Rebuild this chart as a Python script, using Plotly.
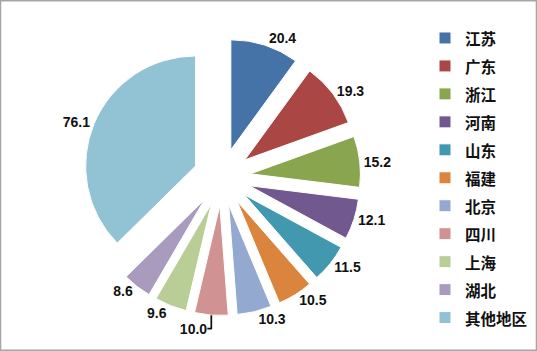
import plotly.graph_objects as go

regions = ["江苏", "广东", "浙江", "河南", "山东", "福建", "北京", "四川", "上海", "湖北", "其他地区"]
values = [20.4, 19.3, 15.2, 12.1, 11.5, 10.5, 10.3, 10.0, 9.6, 8.6, 76.1]
colors = ["#4572A7", "#AA4643", "#89A54E", "#71588F", "#4198AF", "#DB843D",
          "#93A9CF", "#D19392", "#B9CD96", "#A99BBD", "#92C3D5"]

legend_labels = ['<span style="font-size:15.5px">%s</span>' % r for r in regions]

fig = go.Figure(go.Pie(
    labels=legend_labels,
    values=values,
    sort=False,
    direction="clockwise",
    rotation=0,
    pull=0.26,
    marker=dict(colors=colors, line=dict(color="white", width=1)),
    textposition="outside",
    texttemplate="%{value:.1f}",
    textfont=dict(family="Liberation Sans", size=14, color="#111111", weight="bold"),
    domain=dict(x=[0.1553, 0.6715], y=[0.1009, 0.8906]),
    hoverinfo="value",
))

fig.update_layout(
    width=537, height=351,
    margin=dict(l=0, r=0, t=0, b=0, autoexpand=False),
    paper_bgcolor="white",
    showlegend=True,
    legend=dict(
        x=425/537, y=1-178/351, xanchor="left", yanchor="middle",
        font=dict(family="Noto Sans CJK SC", size=19.2, color="#111111", weight="bold"),
        itemwidth=30,
        bgcolor="rgba(0,0,0,0)",
    ),
    shapes=[dict(type="rect", xref="paper", yref="paper", x0=0.001, y0=0.002, x1=0.999, y1=0.998,
                 line=dict(color="#A6A6A6", width=1.5))],
)

fig.write_html("out.html")
